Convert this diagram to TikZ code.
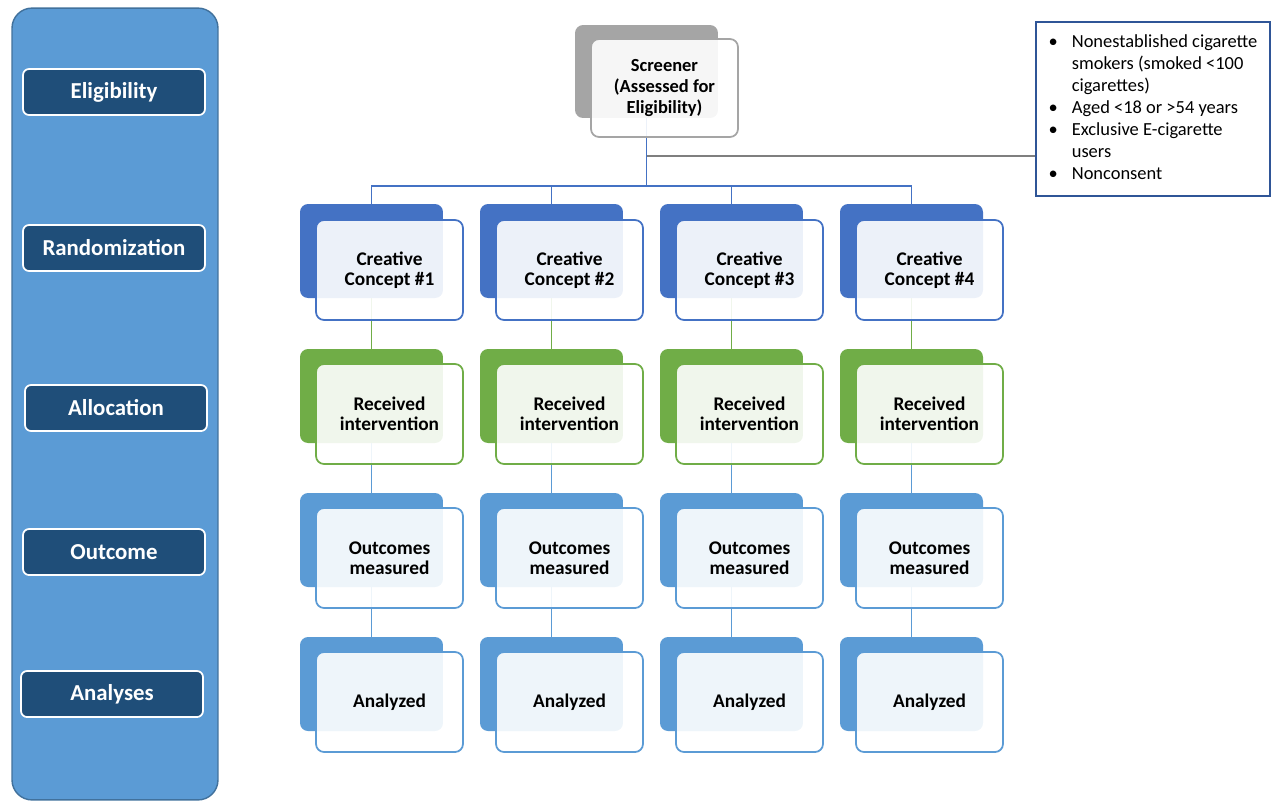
\documentclass[tikz,border=0pt]{standalone}
\usepackage{fontspec}
\setmainfont{Carlito}
\usetikzlibrary{positioning,backgrounds}

\definecolor{panelblue}{HTML}{5B9BD5}
\definecolor{panelline}{HTML}{41719C}
\definecolor{phasenavy}{HTML}{1F4E79}
\definecolor{conceptblue}{HTML}{4472C4}
\definecolor{allocgreen}{HTML}{70AD47}
\definecolor{outcomeblue}{HTML}{5B9BD5}
\definecolor{screengray}{HTML}{A5A5A5}
\definecolor{exclline}{HTML}{2F5597}
\definecolor{linkgray}{HTML}{7F7F7F}

\begin{document}
\begin{tikzpicture}[x=0.02cm, y=-0.02cm,
  phase/.style={rectangle, rounded corners=0.12cm, draw=white, line width=1pt, fill=phasenavy, text=white, font=\fontsize{13}{14}\selectfont\bfseries, minimum width=3.64cm, minimum height=0.92cm},
  back/.style={rectangle, rounded corners=0.16cm, fill=#1, minimum width=2.86cm, minimum height=1.88cm},
  front/.style={rectangle, rounded corners=0.16cm, draw=#1, line width=1pt, fill=white, fill opacity=0.9, text opacity=1, minimum width=2.94cm, minimum height=2cm, align=center, font=\fontsize{11}{11.5}\selectfont\bfseries},
  link/.style={line width=0.9pt, draw=#1}
]
  \useasboundingbox (0,0) rectangle (1280,802);

  % left column with the study phases
  \node[rectangle, rounded corners=0.4cm, fill=panelblue, draw=panelline, line width=0.8pt, minimum width=4.12cm, minimum height=15.84cm] (side) at (115,404) {};
  \node[phase] (elig) at (114,92) {Eligibility};
  \node[phase] (rand) at (114,248) {Randomization};
  \node[phase] (alloc) at (116,408) {Allocation};
  \node[phase] (outc) at (114,552) {Outcome};
  \node[phase] (anal) at (112,694) {Analyses};

  % screener and exclusions
  \node[back=screengray, minimum height=1.86cm] (scrb) at (646.5,71.5) {};
  \node[front=screengray, minimum height=1.96cm, font=\fontsize{10.5}{12}\selectfont\bfseries] (scr) at (664.5,88) {Screener\\(Assessed for\\Eligibility)};
  \node[rectangle, draw=exclline, line width=1.4pt, fill=white, minimum width=4.68cm, minimum height=3.48cm, inner sep=0pt] (excl) at (1153,109) {%
    \fontsize{10.5}{12.5}\selectfont
    \begin{tabular}{@{}c@{\hspace{8pt}}l@{}}
      \textbullet & Nonestablished cigarette\\
                  & smokers (smoked <100\\
                  & cigarettes)\\
      \textbullet & Aged <18 or >54 years\\
      \textbullet & Exclusive E-cigarette\\
                  & users\\
      \textbullet & Nonconsent
    \end{tabular}};
  \coordinate (split) at (646.5,156);
  \coordinate (bus) at (646.5,186);

  % one column per creative concept
  \foreach \i in {1,...,4} {
    \pgfmathsetmacro\cx{371.5+180*(\i-1)}
    \node[back=conceptblue] (cb\i) at (\cx,251) {};
    \node[front=conceptblue] (c\i) at (\cx+18,270) {Creative\\Concept \#\i};
    \node[back=allocgreen] (rb\i) at (\cx,396) {};
    \node[front=allocgreen] (r\i) at (\cx+18,414) {Received\\intervention};
    \node[back=outcomeblue] (ob\i) at (\cx,540) {};
    \node[front=outcomeblue] (o\i) at (\cx+18,558) {Outcomes\\measured};
    \node[back=outcomeblue] (ab\i) at (\cx,684) {};
    \node[front=outcomeblue] (a\i) at (\cx+18,702) {Analyzed};
  }

  \begin{scope}[on background layer]
    \draw[link=conceptblue] (scrb.south) -- (bus);
    \draw[link=linkgray] (split) -- (split -| excl.west);
    \foreach \i in {1,...,4} {
      \draw[link=conceptblue] (cb\i.north) |- (bus);
      \draw[link=allocgreen] (cb\i.south) -- (rb\i.north);
      \draw[link=outcomeblue] (rb\i.south) -- (ob\i.north);
      \draw[link=outcomeblue] (ob\i.south) -- (ab\i.north);
    }
  \end{scope}
\end{tikzpicture}
\end{document}
